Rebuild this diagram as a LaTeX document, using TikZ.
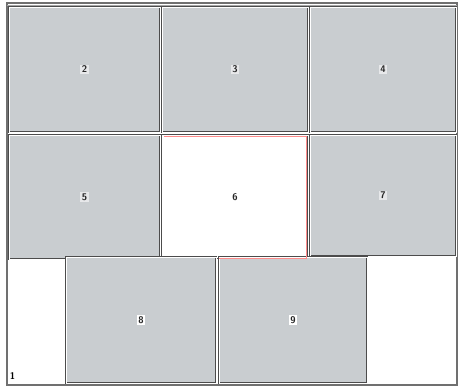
\documentclass[tikz,border=0pt]{standalone}
\usepackage{xcolor}
\definecolor{colTile}{RGB}{201,205,208}
\colorlet{colEdge}{black!70}
\colorlet{colMark}{red!45!white}
\usepackage{tikz}
\usetikzlibrary{positioning}

\begin{document}
\begin{tikzpicture}[x=0.02cm, y=-0.02cm,
		tile/.style={fill=colTile, draw=colEdge, line width=0.6pt, double=white, double distance=0.35pt},
		opening/.style={fill=white, draw=colEdge, line width=0.6pt, double=white, double distance=0.35pt},
		tag/.style={font=\sffamily\bfseries\fontsize{5.5}{5.5}\selectfont, fill=white!55!colTile, inner sep=0.8pt, text=black!85}]
	\useasboundingbox (0,0) rectangle (458,387);
	% Outer frame
	\draw[colEdge!80, line width=0.8pt] (7,3) rectangle (457,385);
	\draw[black!35, line width=0.4pt] (7,5.5) -- (457,5.5);
	% Top and middle rows
	\foreach \x/\y/\xx/\yy/\lab in {9/7/160/132/2, 162/7/308/132/3, 310/7/456/132/4,
			9/135/160/259/5, 310/135/456/256/7} {
		\draw[tile] (\x,\y) rectangle (\xx,\yy);
		\node[tag] (t\lab) at ({(\x+\xx)/2},{(\y+\yy)/2}) {\lab};
	}
	% Opening in the middle
	\draw[opening] (162,135) rectangle (308,259);
	\node[tag, fill=white] (t6) at (235,197) {6};
	% Bottom row
	\foreach \x/\y/\xx/\yy/\lab in {66/257/216/383/8, 219/257/367/383/9} {
		\draw[tile] (\x,\y) rectangle (\xx,\yy);
		\node[tag, fill=white] (t\lab) at ({(\x+\xx)/2},{(\y+\yy)/2}) {\lab};
	}
	% Marked edge round the opening
	\draw[colMark, line width=0.6pt] (164,136.5) -- (306.5,136.5) -- (306.5,258.5) -- (219,258.5);
	\node[font=\sffamily\bfseries\fontsize{5.5}{5.5}\selectfont, anchor=south west, inner sep=0pt] (t1) at (9.5,380) {1};
\end{tikzpicture}
\end{document}
